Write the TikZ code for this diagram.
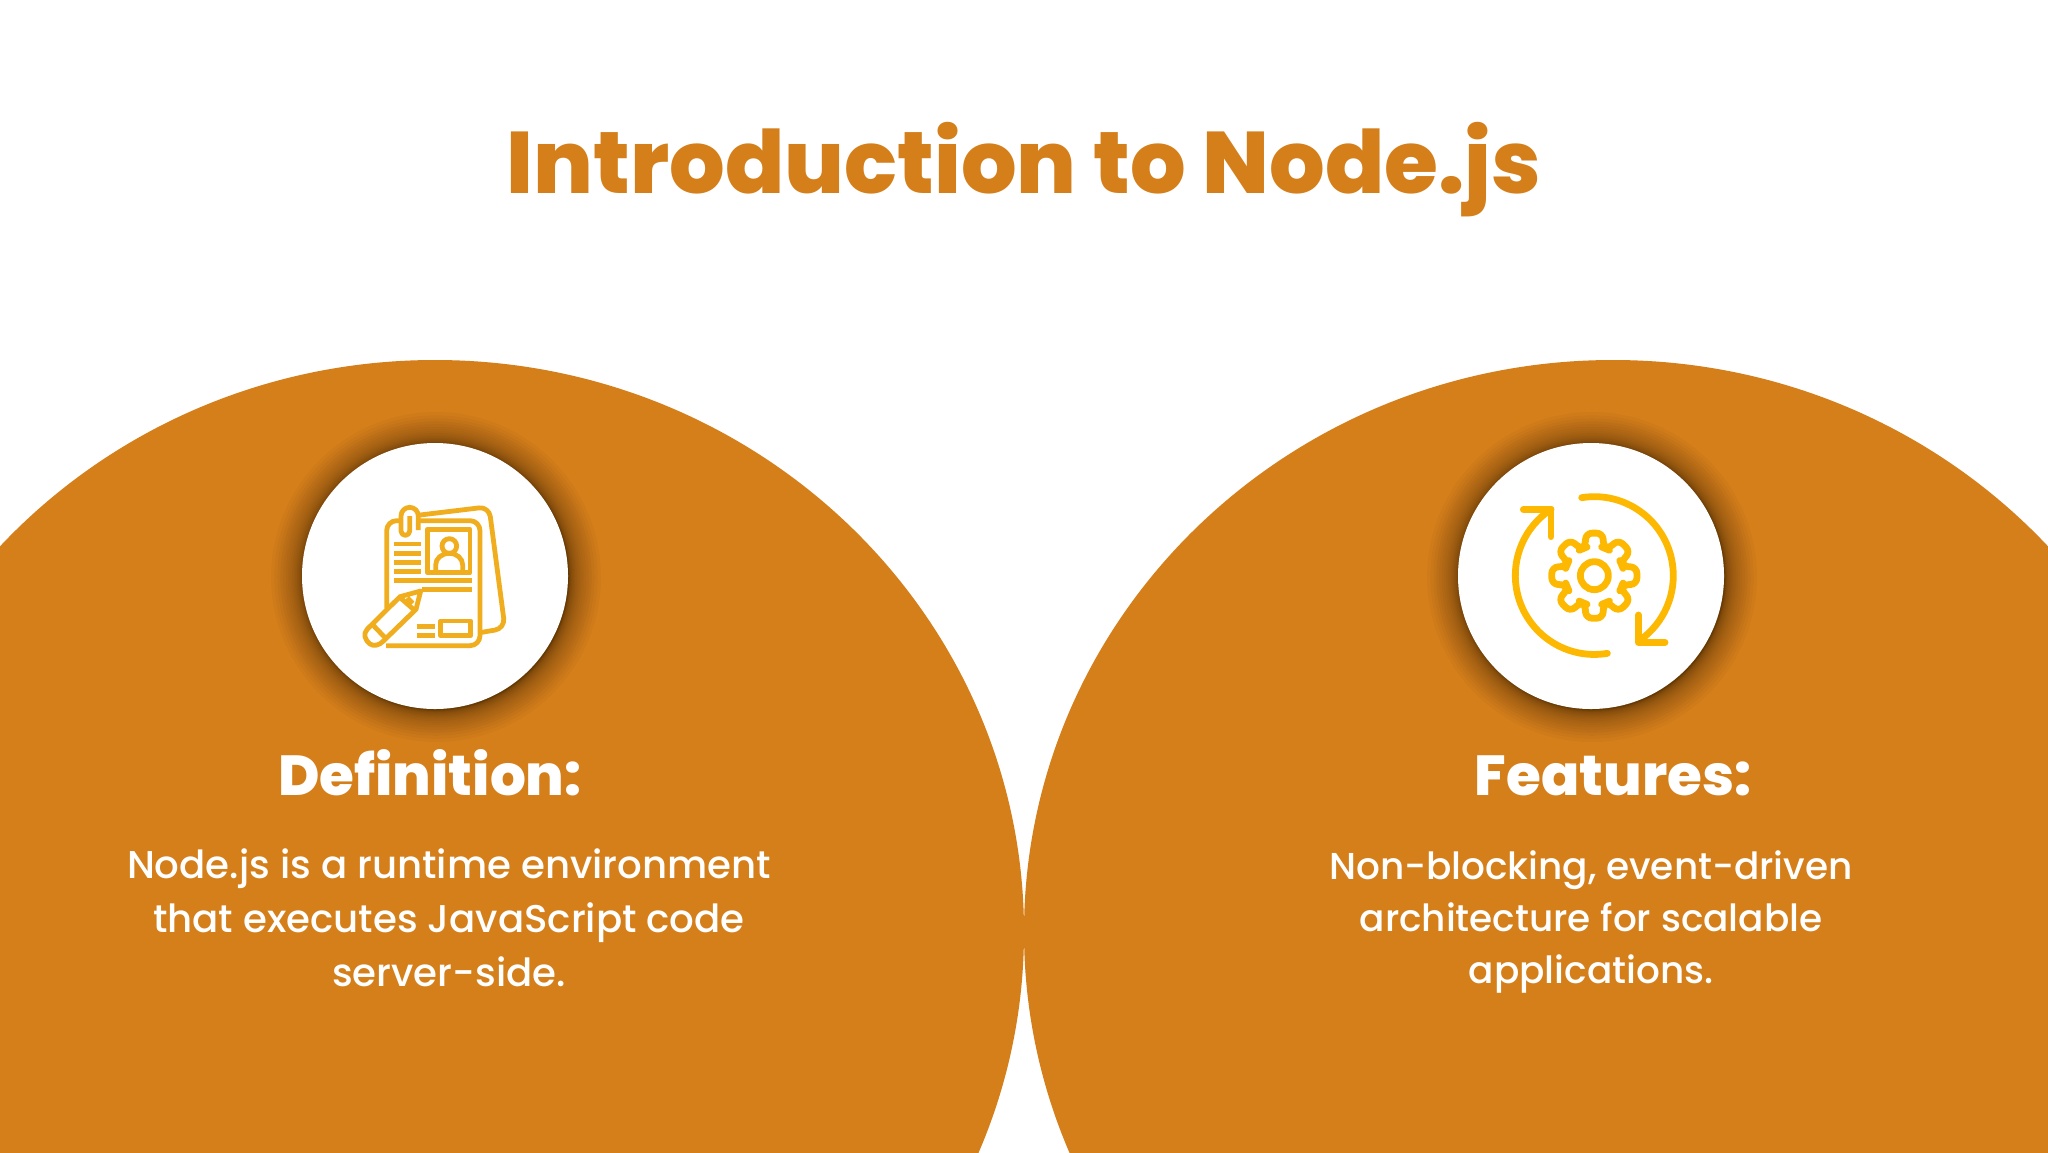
\documentclass[tikz,border=0pt]{standalone}
\usepackage{fontspec}
\usetikzlibrary{calc}
\setmainfont{Poppins}
\newfontfamily\heavyfont{Poppins ExtraBold}
\newfontfamily\midfont{Poppins Medium}
\definecolor{brand}{HTML}{D57F1B}
\definecolor{docicon}{HTML}{F0AE1E}
\definecolor{gearicon}{HTML}{FDB902}
\tikzset{
  halo/.style={fill=black,opacity=0.026,draw=none},
  bigdisc/.style={fill=brand,draw=none},
  disc/.style={fill=white,draw=none},
  titletext/.style={text=brand,font=\heavyfont\fontsize{43.7}{54}\selectfont,anchor=base,inner sep=0},
  headtext/.style={text=white,font=\heavyfont\fontsize{28.2}{34}\selectfont,anchor=base,inner sep=0},
  bodyleft/.style={text=white,font=\midfont\fontsize{19.35}{26.8}\selectfont,align=center,anchor=base,inner sep=0},
  bodyright/.style={text=white,font=\midfont\fontsize{18.7}{26}\selectfont,align=center,anchor=base,inner sep=0},
  docline/.style={draw=docicon,line width=2.4pt,line join=round,line cap=butt},
  gearline/.style={draw=gearicon,line width=3.4pt,line join=round,line cap=round},
}
\begin{document}
\begin{tikzpicture}[x=0.5pt,y=-0.5pt]
\useasboundingbox (0,0) rectangle (2048,1152);
\fill[white] (0,0) rectangle (2048,1152);
\begin{scope}
\clip (0,0) rectangle (2048,1152);
\fill[bigdisc] (435,932) ellipse [x radius=589,y radius=572];
\fill[bigdisc] (1613,932) ellipse [x radius=589,y radius=572];
\end{scope}
\foreach \cx in {435,1591}{
  \foreach \i in {1,2,...,24}{
    \pgfmathsetmacro{\r}{133+32*(\i/24)^2.6}
    \fill[halo] (\cx+1,577) circle [radius=\r];
  }
  \fill[disc] (\cx,576) circle [radius=133];
}
% document icon
\begin{scope}[shift={(290,430)},x=0.16667pt,y=-0.16667pt]
\draw[docline,rounded corners=5pt] (390,255) -- (597,230) -- (645,595) -- (575,607);
\draw[docline,rounded corners=5pt] (290,535) -- (290,272) -- (335,272);
\draw[docline,rounded corners=5pt] (390,272) -- (570,272) -- (570,647) -- (288,647);
\draw[docline] (385,300) -- (385,258) arc[start angle=0,end angle=-180,radius=26] -- (333,303) arc[start angle=180,end angle=0,radius=13] -- (359,258);
\draw[docline] (412,298) rectangle (540,428);
\draw[docline] (478,348) circle [radius=22];
\draw[docline] (437,423) -- (437,405) .. controls (437,385) and (455,370) .. (478,370) .. controls (500,370) and (518,385) .. (518,405) -- (518,423);
\foreach \ly in {342,370,397,424}{\draw[docline] (312,\ly) -- (392,\ly);}
\draw[docline] (312,452) -- (545,452);
\draw[docline] (395,479) -- (545,479);
\draw[docline] (380,590) -- (435,590);
\draw[docline] (380,617) -- (435,617);
\draw[docline] (452,573) rectangle (542,617);
\draw[docline] (392,483) -- (330,500) -- (232,597) .. controls (218,612) and (225,630) .. (240,642) .. controls (252,650) and (268,645) .. (278,635) -- (378,538) -- cycle;
\draw[docline] (248,584) -- (288,626);
\draw[docline] (333,505) -- (375,542);
\draw[docline] (352,503) -- (368,520);
\end{scope}
% gear icon
\begin{scope}[shift={(1445,430)},x=0.16667pt,y=-0.16667pt]
\draw[gearline] (448,437) circle [radius=42];
\draw[gearline,rounded corners=3pt] (448,437) ++(-19:88)
  \foreach \a in {0,45,...,315}{ -- ($(448,437)+(\a-19:88)$) -- ($(448,437)+(\a-11:130)$) -- ($(448,437)+(\a+11:130)$) -- ($(448,437)+(\a+19:88)$) } -- cycle;
\draw[gearline] (410,203) arc[start angle=-99.2,end angle=54.9,radius=237];
\draw[gearline] (580,555) -- (580,637) -- (660,637);
\draw[gearline] (487,670) arc[start angle=80.5,end angle=236.8,radius=237];
\draw[gearline] (235,238) -- (318,238) -- (318,320);
\end{scope}
\node[titletext] (title) at (1024,193) {Introduction to Node.js};
\node[headtext] (defhead) at (430,795) {Definition:};
\node[headtext] (feathead) at (1613,795) {Features:};
\node[bodyleft] (defbody) at (449,986) {Node.js is a runtime environment\\that executes JavaScript code\\server-side.};
\node[bodyright] (featbody) at (1591,983) {Non-blocking, event-driven\\architecture for scalable\\applications.};
\end{tikzpicture}
\end{document}
